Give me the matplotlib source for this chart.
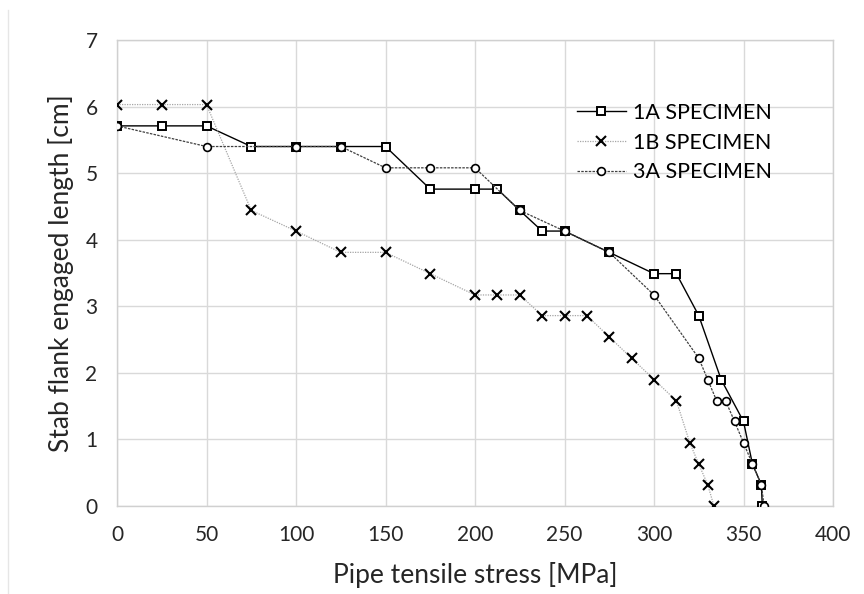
"""
Stab flank engaged length vs pipe tensile stress
"""
import matplotlib
matplotlib.use("Agg")
import matplotlib.pyplot as plt
from matplotlib.lines import Line2D

# 1A specimen
stress_1a = [0, 25, 50, 75, 100, 125, 150, 175, 200, 212.5, 225, 237.5, 250, 275,
             300, 312.5, 325, 337.5, 350, 355, 360, 360.5]
length_1a = [5.71, 5.71, 5.71, 5.40, 5.40, 5.40, 5.40, 4.76, 4.76, 4.76, 4.44, 4.13, 4.13, 3.81,
             3.49, 3.49, 2.86, 1.90, 1.27, 0.63, 0.32, 0.0]

# 1B specimen
stress_1b = [0, 25, 50, 75, 100, 125, 150, 175, 200, 212.5, 225, 237.5, 250, 262.5,
             275, 287.5, 300, 312.5, 320, 325, 330, 333.5]
length_1b = [6.03, 6.03, 6.03, 4.44, 4.13, 3.81, 3.81, 3.49, 3.17, 3.17, 3.17, 2.86, 2.86, 2.86,
             2.54, 2.22, 1.90, 1.58, 0.95, 0.63, 0.32, 0.0]

# 3A specimen
stress_3a = [0, 50, 100, 125, 150, 175, 200, 225, 250, 275, 300, 325, 330, 335, 340,
             345, 350, 355, 360, 361.5]
length_3a = [5.71, 5.40, 5.40, 5.40, 5.08, 5.08, 5.08, 4.44, 4.13, 3.81, 3.17, 2.22, 1.90, 1.58, 1.58,
             1.27, 0.95, 0.63, 0.32, 0.0]

labels = ["1A SPECIMEN", "1B SPECIMEN", "3A SPECIMEN"]
x_ticks = [0, 50, 100, 150, 200, 250, 300, 350, 400]
y_ticks = [0, 1, 2, 3, 4, 5, 6, 7]

plt.rcParams['font.family'] = ['Lato', 'DejaVu Sans']

fig = plt.figure(figsize=(8.64, 5.94), dpi=100)
ax = fig.add_axes([117 / 864, 1 - 506 / 594, (833 - 117) / 864, (506 - 40) / 594])

ax.plot(stress_1a, length_1a, color='black', lw=1.0, marker='s', ms=6.4,
        mfc='white', mec='black', mew=1.4, label=labels[0], zorder=3)
ax.plot(stress_1b, length_1b, color='#a6a6a6', lw=0.9, ls=(0, (1, 1)), marker='x', ms=6.5,
        mec='black', mew=1.5, label=labels[1], zorder=3)
ax.plot(stress_3a, length_3a, color='#404040', lw=0.9, ls=(0, (2, 1)), marker='o', ms=5.6,
        mfc='white', mec='black', mew=1.2, label=labels[2], zorder=3)

ax.set_xlim(0, 400)
ax.set_ylim(0, 7)
ax.set_xticks(x_ticks)
ax.set_yticks(y_ticks)
ax.tick_params(length=0, labelsize=15, colors='#262626')
ax.tick_params(axis='x', pad=14)
ax.tick_params(axis='y', pad=14)
ax.grid(True, color='#d9d9d9', lw=1.0)
ax.set_axisbelow(True)
for s in ax.spines.values():
    s.set_color('#d0d0d0')
    s.set_linewidth(1.0)

ax.set_xlabel("Pipe tensile stress [MPa]", fontsize=19, color='#262626', labelpad=12)
ax.set_ylabel("Stab flank engaged length [cm]", fontsize=19, color='#262626', labelpad=8)

ax.legend(loc='upper left', bbox_to_anchor=(0.642, 0.865), frameon=False, fontsize=15.5,
          handlelength=2.3, handletextpad=0.3, labelspacing=0.45,
          borderaxespad=0, borderpad=0)

fig.add_artist(Line2D([8 / 864, 8 / 864], [0, 1 - 10 / 594], color='#e6e6e6', lw=1.0))

plt.savefig("out.png", dpi=100)
